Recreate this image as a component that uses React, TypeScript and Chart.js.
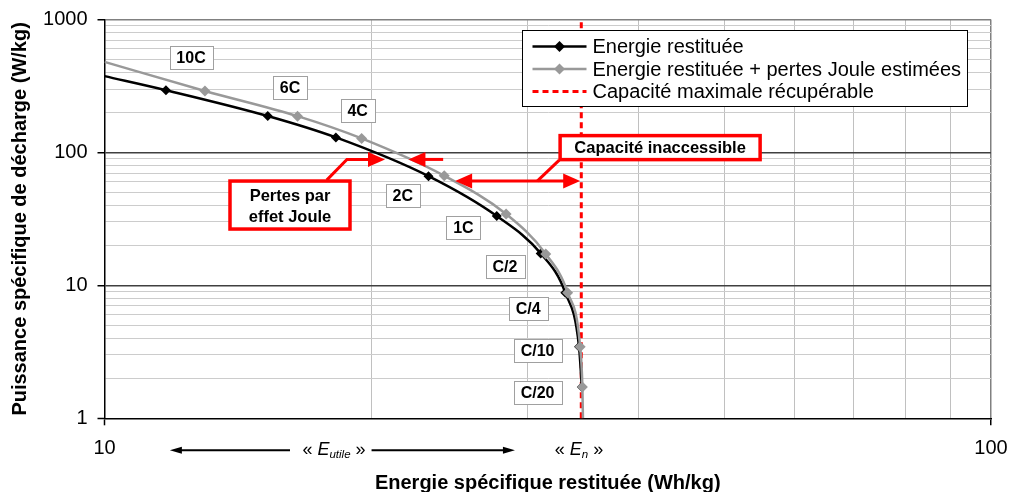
import { useEffect, useRef } from 'react';
import { Chart, registerables } from 'chart.js';

Chart.register(...registerables);

const FONT = "'Liberation Sans', Arial, Helvetica, sans-serif";

// ---- data ----
const rateLabels = ['10C', '6C', '4C', '2C', '1C', 'C/2', 'C/4', 'C/10', 'C/20'];

// Energie restituée (black): first point is the curve start at the left edge
const blackEnergy = [10, 11.73, 15.28, 18.24, 23.2, 27.7, 31.05, 33.1, 34.3, 34.55];
const blackPower = [375, 294, 188, 129.7, 66.3, 33.2, 17.4, 8.8, 3.45, 1.72];

// Energie restituée + pertes Joule estimées (gray)
const grayEnergy = [10, 12.98, 16.51, 19.5, 24.17, 28.38, 31.46, 33.3, 34.4, 34.6, 34.65];
const grayPower = [480, 290, 187.5, 127.4, 66.7, 34.4, 17.2, 8.8, 3.45, 1.72, 1];

// Capacité maximale récupérable (red dashed vertical)
const maxCapacityEnergy = [34.5, 34.5];
const maxCapacityPower = [1, 1000];

// rate label anchors (data coords)
const labelEnergy = [12.52, 16.19, 19.3, 21.7, 25.4, 28.3, 30.05, 30.8, 30.8];
const labelPower = [520, 309.7, 208, 47.7, 27.4, 13.8, 6.67, 3.21, 1.557];

// axes ticks
const xTicks = [10, 20, 30, 40, 50, 60, 70, 80, 90, 100];
const xTickLabels = [10, 100];
const yTicks = [1, 2, 3, 4, 5, 6, 7, 8, 9, 10, 20, 30, 40, 50, 60, 70, 80, 90, 100, 200, 300, 400, 500, 600, 700, 800, 900, 1000];
const yTickLabels = [1, 10, 100, 1000];

// annotation anchors (data coords)
const pertesBoxCenter = [16.19, 40.2];
const pertesCallout = [[17.81, 61.9], [18.77, 88.6], [20.72, 88.6]];
const pertesArrow2 = [[24.1, 88.6], [22.02, 88.6]];
const capBoxCenter = [42.34, 108.7];
const capCallout = [[32.58, 87.5], [30.77, 60.9]];
const capArrow = [[24.86, 60.9], [34.4, 60.9]];
const eutileArrowLeft = [16.19, 11.85];
const eutileArrowRight = [20.01, 29.04];
const eutileCenter = 18.15;
const enCenter = 34.3;

const legendLabels = [
  'Energie restituée',
  'Energie restituée + pertes Joule estimées',
  'Capacité maximale récupérable',
];

const BLACK = '#000000';
const GRAY = '#999999';
const RED = '#ff0000';

function arrowHead(ctx: CanvasRenderingContext2D, tx: number, ty: number, dir: number, len: number, half: number) {
  ctx.beginPath();
  ctx.moveTo(tx, ty);
  ctx.lineTo(tx - dir * len, ty - half);
  ctx.lineTo(tx - dir * len, ty + half);
  ctx.closePath();
  ctx.fill();
}

function drawDiamond(ctx: CanvasRenderingContext2D, x: number, y: number, r: number) {
  ctx.beginPath();
  ctx.moveTo(x, y - r);
  ctx.lineTo(x + r, y);
  ctx.lineTo(x, y + r);
  ctx.lineTo(x - r, y);
  ctx.closePath();
  ctx.fill();
}

const annotationPlugin = {
  id: 'annotations',
  afterDatasetsDraw(chart: any) {
    const { ctx, scales, chartArea } = chart;
    const px = (v: number) => scales.x.getPixelForValue(v);
    const py = (v: number) => scales.y.getPixelForValue(v);
    ctx.save();

    // --- rate labels ---
    ctx.font = `bold 16px ${FONT}`;
    ctx.textAlign = 'center';
    ctx.textBaseline = 'middle';
    rateLabels.forEach((t, i) => {
      const cx = px(labelEnergy[i]);
      const cy = py(labelPower[i]);
      const w = Math.round(ctx.measureText(t).width + 14);
      const h = 23;
      const l = Math.round(cx - w / 2) + 0.5;
      const tp = Math.round(cy - h / 2) + 0.5;
      ctx.fillStyle = '#ffffff';
      ctx.fillRect(l, tp, w, h);
      ctx.strokeStyle = '#a0a0a0';
      ctx.lineWidth = 1;
      ctx.strokeRect(l, tp, w, h);
      ctx.fillStyle = '#000';
      ctx.fillText(t, cx, cy + 1);
    });

    // --- red callouts ---
    ctx.strokeStyle = RED;
    ctx.fillStyle = RED;
    ctx.lineWidth = 3;
    ctx.lineJoin = 'miter';
    ctx.beginPath();
    pertesCallout.forEach(([e, p], i) => {
      const X = px(e), Y = py(p);
      if (i === 0) ctx.moveTo(X, Y); else if (i === pertesCallout.length - 1) ctx.lineTo(X - 14, Y); else ctx.lineTo(X, Y);
    });
    ctx.stroke();
    {
      const [e, p] = pertesCallout[pertesCallout.length - 1];
      arrowHead(ctx, px(e), py(p), 1, 17, 7.5);
    }
    {
      const [[e0, p0], [e1, p1]] = pertesArrow2;
      ctx.beginPath();
      ctx.moveTo(px(e0), py(p0));
      ctx.lineTo(px(e1) + 14, py(p1));
      ctx.stroke();
      arrowHead(ctx, px(e1), py(p1), -1, 17, 7.5);
    }
    ctx.beginPath();
    ctx.moveTo(px(capCallout[0][0]), py(capCallout[0][1]));
    ctx.lineTo(px(capCallout[1][0]), py(capCallout[1][1]));
    ctx.stroke();
    {
      const [[e0, p0], [e1, p1]] = capArrow;
      ctx.beginPath();
      ctx.moveTo(px(e0) + 14, py(p0));
      ctx.lineTo(px(e1) - 14, py(p1));
      ctx.stroke();
      arrowHead(ctx, px(e0), py(p0), -1, 17, 7.5);
      arrowHead(ctx, px(e1), py(p1), 1, 17, 7.5);
    }

    // pertes box
    {
      const cx = px(pertesBoxCenter[0]);
      const cy = py(pertesBoxCenter[1]);
      const w = 120, h = 48;
      ctx.fillStyle = '#fff';
      ctx.fillRect(cx - w / 2, cy - h / 2, w, h);
      ctx.strokeStyle = RED;
      ctx.lineWidth = 3.5;
      ctx.strokeRect(cx - w / 2, cy - h / 2, w, h);
      ctx.fillStyle = '#000';
      ctx.font = `bold 16.5px ${FONT}`;
      ctx.textAlign = 'center';
      ctx.textBaseline = 'middle';
      ctx.fillText('Pertes par', cx, cy - 9);
      ctx.fillText('effet Joule', cx, cy + 12);
    }
    // capacité box
    {
      const cx = px(capBoxCenter[0]);
      const cy = py(capBoxCenter[1]);
      const w = 200, h = 24;
      ctx.fillStyle = '#fff';
      ctx.fillRect(cx - w / 2, cy - h / 2, w, h);
      ctx.strokeStyle = RED;
      ctx.lineWidth = 3.5;
      ctx.strokeRect(cx - w / 2, cy - h / 2, w, h);
      ctx.fillStyle = '#000';
      ctx.font = `bold 16.5px ${FONT}`;
      ctx.textAlign = 'center';
      ctx.textBaseline = 'middle';
      ctx.fillText('Capacité inaccessible', cx, cy + 1);
    }

    // --- bottom E annotations ---
    const by = chartArea.bottom + 32;
    ctx.strokeStyle = '#000';
    ctx.fillStyle = '#000';
    ctx.lineWidth = 2;
    ctx.beginPath();
    ctx.moveTo(px(eutileArrowLeft[0]), by);
    ctx.lineTo(px(eutileArrowLeft[1]) + 8, by);
    ctx.stroke();
    arrowHead(ctx, px(eutileArrowLeft[1]), by, -1, 12, 3.5);
    ctx.beginPath();
    ctx.moveTo(px(eutileArrowRight[0]), by);
    ctx.lineTo(px(eutileArrowRight[1]) - 8, by);
    ctx.stroke();
    arrowHead(ctx, px(eutileArrowRight[1]), by, 1, 12, 3.5);

    const drawE = (center: number, sub: string) => {
      const parts: [string, string, number][] = [
        ['« ', `18px ${FONT}`, 0],
        ['E', `italic 18px ${FONT}`, 0],
        [sub, `italic 11.5px ${FONT}`, 4],
        [' »', `18px ${FONT}`, 0],
      ];
      let total = 0;
      parts.forEach(([t, f]) => { ctx.font = f; total += ctx.measureText(t).width; });
      let x0 = center - total / 2;
      ctx.textAlign = 'left';
      ctx.textBaseline = 'middle';
      parts.forEach(([t, f, dy]) => {
        ctx.font = f;
        ctx.fillText(t, x0, by + dy);
        x0 += ctx.measureText(t).width;
      });
    };
    drawE(px(eutileCenter), 'utile');
    drawE(px(enCenter), 'n');

    ctx.restore();
  },
  afterDraw(chart: any) {
    const { ctx } = chart;
    ctx.save();
    const lx = 522.5, ly = 30.5;
    ctx.font = `20px ${FONT}`;
    const maxW = Math.max(...legendLabels.map((t) => ctx.measureText(t).width));
    const w = Math.round(70 + maxW + 6);
    const h = 76;
    ctx.fillStyle = '#fff';
    ctx.fillRect(lx, ly, w, h);
    ctx.strokeStyle = '#000';
    ctx.lineWidth = 1;
    ctx.strokeRect(lx, ly, w, h);
    const rows = [ly + 16, ly + 38.5, ly + 61];
    const colors = [BLACK, GRAY, RED];
    rows.forEach((ry, i) => {
      ctx.strokeStyle = colors[i];
      ctx.lineWidth = i === 2 ? 3 : 2.5;
      ctx.setLineDash(i === 2 ? [6, 4] : []);
      ctx.beginPath();
      ctx.moveTo(lx + 10, ry);
      ctx.lineTo(lx + 64, ry);
      ctx.stroke();
      ctx.setLineDash([]);
      if (i < 2) {
        ctx.fillStyle = colors[i];
        drawDiamond(ctx, lx + 37, ry, 5.5);
      }
      ctx.fillStyle = '#000';
      ctx.textAlign = 'left';
      ctx.textBaseline = 'middle';
      ctx.font = `20px ${FONT}`;
      ctx.fillText(legendLabels[i], lx + 70, ry + 1);
    });
    ctx.restore();
  },
};

export default function App() {
  const canvasRef = useRef<HTMLCanvasElement | null>(null);

  useEffect(() => {
    document.body.style.margin = '0';
    const canvas = canvasRef.current;
    if (!canvas) return;

    const toPts = (xs: number[], ys: number[]) => xs.map((x, i) => ({ x, y: ys[i] }));

    const chart = new Chart(canvas, {
      type: 'line',
      data: {
        datasets: [
          {
            label: legendLabels[0],
            data: toPts(blackEnergy, blackPower),
            borderColor: BLACK,
            backgroundColor: BLACK,
            borderWidth: 2.5,
            pointStyle: 'rectRot',
            pointRadius: (c: any) => (c.dataIndex === 0 ? 0 : 5),
            pointBorderWidth: 0,
            cubicInterpolationMode: 'monotone',
            order: 2,
          },
          {
            label: legendLabels[1],
            data: toPts(grayEnergy, grayPower),
            borderColor: GRAY,
            backgroundColor: GRAY,
            borderWidth: 2.5,
            pointStyle: 'rectRot',
            pointRadius: (c: any) => (c.dataIndex === 0 || c.dataIndex === grayEnergy.length - 1 ? 0 : 5.5),
            pointBorderWidth: 0,
            cubicInterpolationMode: 'monotone',
            order: 1,
          },
          {
            label: legendLabels[2],
            data: toPts(maxCapacityEnergy, maxCapacityPower),
            borderColor: RED,
            borderWidth: 3,
            borderDash: [6, 4],
            pointRadius: 0,
            clip: false as any,
            order: 3,
          },
        ],
      },
      options: {
        animation: false,
        responsive: false,
        events: [],
        layout: { padding: { top: 19.5, right: 19, left: 0, bottom: 0 } },
        plugins: { legend: { display: false }, tooltip: { enabled: false } },
        scales: {
          x: {
            type: 'logarithmic',
            min: 10,
            max: 100,
            afterBuildTicks: (s: any) => {
              s.ticks = xTicks.map((v) => ({ value: v }));
            },
            afterFit: (s: any) => {
              s.height = 73.7;
              s.paddingLeft = 0;
              s.paddingRight = 0;
            },
            ticks: {
              callback: (v: any) => (xTickLabels.includes(Number(v)) ? String(v) : ''),
              autoSkip: false,
              maxRotation: 0,
              padding: 11,
              color: '#000',
              font: { size: 20, family: FONT },
            },
            grid: {
              color: (c: any) => {
                const v = c.tick?.value;
                if (v === 10) return 'rgba(0,0,0,0)';
                if (v === 100) return '#808080';
                return '#c0c0c0';
              },
              lineWidth: (c: any) => (c.tick?.value === 100 ? 1.5 : 1),
              tickColor: (c: any) => (xTickLabels.includes(c.tick?.value) ? '#000' : 'rgba(0,0,0,0)'),
              tickLength: 7,
              tickWidth: 1.5,
            },
            border: { color: '#000', width: 1.5 },
            title: {
              display: true,
              text: 'Energie spécifique restituée (Wh/kg)',
              color: '#000',
              font: { size: 20, weight: 'bold', family: FONT, lineHeight: 0.8 },
              padding: { top: 0, bottom: 1 },
            },
          },
          y: {
            type: 'logarithmic',
            min: 1,
            max: 1000,
            afterBuildTicks: (s: any) => {
              s.ticks = yTicks.map((v) => ({ value: v }));
            },
            afterFit: (s: any) => {
              s.width = 104.5;
              s.paddingTop = 0;
              s.paddingBottom = 0;
            },
            ticks: {
              callback: (v: any) => (yTickLabels.includes(Number(v)) ? String(v) : ''),
              autoSkip: false,
              padding: 10,
              color: '#000',
              font: { size: 20, family: FONT },
            },
            grid: {
              color: (c: any) => {
                const v = c.tick?.value;
                if (v === 1) return 'rgba(0,0,0,0)';
                if (v === 10 || v === 100) return '#404040';
                if (v === 1000) return '#808080';
                return '#cccccc';
              },
              lineWidth: (c: any) => {
                const v = c.tick?.value;
                return v === 10 || v === 100 || v === 1000 ? 1.5 : 1;
              },
              tickColor: (c: any) => (yTickLabels.includes(c.tick?.value) ? '#000' : 'rgba(0,0,0,0)'),
              tickLength: 7,
              tickWidth: 1.5,
            },
            border: { color: '#000', width: 1.5 },
            title: {
              display: true,
              text: 'Puissance spécifique de décharge (W/kg)',
              color: '#000',
              font: { size: 20, weight: 'bold', family: FONT, lineHeight: 0.8 },
              padding: { top: 12, bottom: 0 },
            },
          },
        },
      } as any,
      plugins: [annotationPlugin],
    });

    return () => chart.destroy();
  }, []);

  return (
    <div style={{ width: 1010, height: 492, background: '#fff' }}>
      <canvas ref={canvasRef} width={1010} height={492} style={{ display: 'block' }} />
    </div>
  );
}
